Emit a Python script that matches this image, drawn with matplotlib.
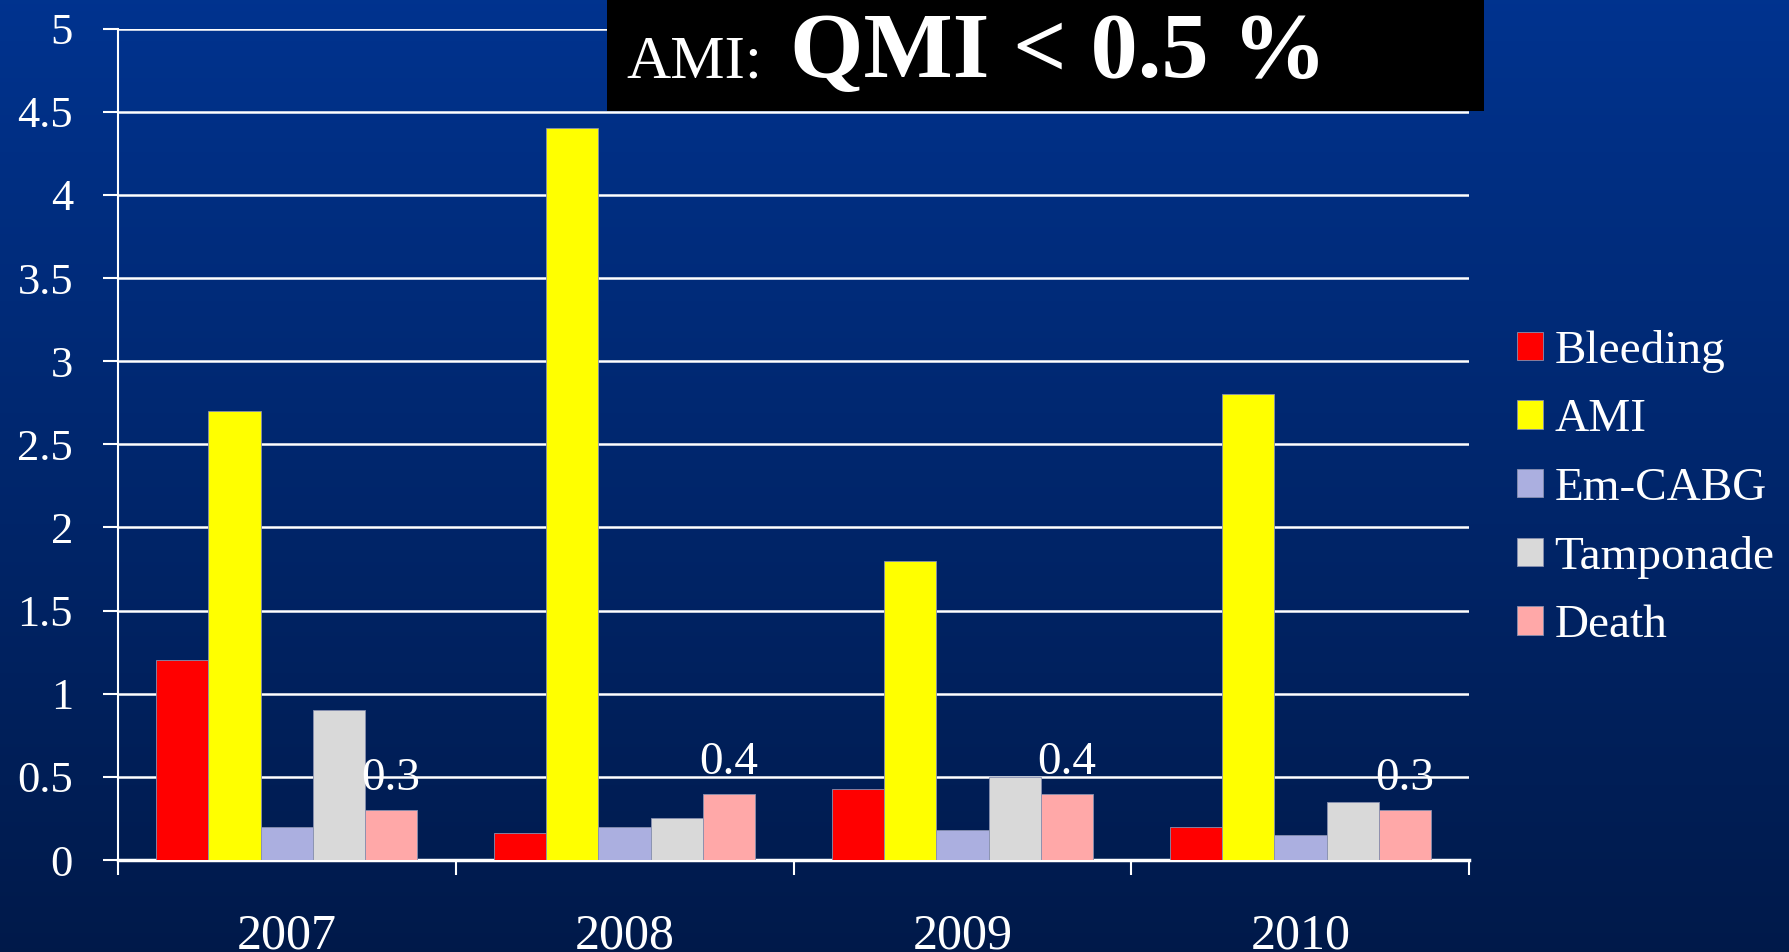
import matplotlib
matplotlib.use("Agg")
import matplotlib.pyplot as plt
import numpy as np
from matplotlib.patches import Rectangle

years = ["2007", "2008", "2009", "2010"]
series = ["Bleeding", "AMI", "Em-CABG", "Tamponade", "Death"]
bleeding = [1.2, 0.16, 0.43, 0.2]
ami = [2.7, 4.4, 1.8, 2.8]
em_cabg = [0.2, 0.2, 0.18, 0.15]
tamponade = [0.9, 0.25, 0.5, 0.35]
death = [0.3, 0.4, 0.4, 0.3]
death_labels = ["0.3", "0.4", "0.4", "0.3"]
yticks = [0, 0.5, 1, 1.5, 2, 2.5, 3, 3.5, 4, 4.5, 5]
ytick_labels = ["0", "0.5", "1", "1.5", "2", "2.5", "3", "3.5", "4", "4.5", "5"]

colors = ["#ff0000", "#ffff00", "#abafe0", "#d9d9d9", "#ffa8a8"]
values = [bleeding, ami, em_cabg, tamponade, death]

plt.rcParams["font.family"] = ["Liberation Serif", "DejaVu Serif"]

fig = plt.figure(figsize=(17.89, 9.52), dpi=100)

# background gradient
bg = fig.add_axes([0, 0, 1, 1], zorder=-10)
top = np.array([0.0, 0.20, 0.56])
bot = np.array([0.0, 0.10, 0.29])
t = np.linspace(0, 1, 256)[:, None]
grad = top[None, :] * (1 - t) + bot[None, :] * t
bg.imshow(grad[:, None, :].repeat(2, axis=1), aspect="auto", extent=[0, 1, 0, 1])
bg.set_axis_off()

ax = fig.add_axes([0.0657, 0.0966, 0.7557, 0.8734])
ax.set_facecolor("none")

x = np.arange(len(years)) + 0.5
w = 0.154
for i, (name, vals, c) in enumerate(zip(series, values, colors)):
    ax.bar(x + (i - 2) * w, vals, width=w, color=c, label=name,
           edgecolor="#8890b0", linewidth=0.6, zorder=3)

for xi, v, lab in zip(x, death, death_labels):
    ax.text(xi + 2 * w, v + 0.12, lab, ha="center", va="baseline",
            color="white", fontsize=34, zorder=4)

ax.set_xlim(0, len(years))
ax.set_ylim(0, 5)
ax.set_yticks(yticks)
ax.set_yticklabels(ytick_labels)
ax.yaxis.grid(True, color="white", linewidth=1.8, zorder=0)
ax.set_axisbelow(True)

ax.set_xticks(np.arange(len(years) + 1))
ax.set_xticklabels([])
ax.set_xticks(x, minor=True)
ax.set_xticklabels(years, minor=True)
ax.tick_params(axis="x", which="major", direction="out", length=11,
               width=1.5, color="white")
ax.tick_params(axis="x", which="minor", length=0, pad=38, labelsize=36,
               labelcolor="white")
ax.tick_params(axis="y", direction="out", length=11, width=1.5, color="white",
               pad=21, labelsize=32, labelcolor="white")

for s in ["top", "right"]:
    ax.spines[s].set_visible(False)
ax.spines["left"].set_color("white")
ax.spines["left"].set_linewidth(1.5)
ax.spines["bottom"].set_color("white")
ax.spines["bottom"].set_linewidth(2.5)

leg = ax.legend(loc="center left", bbox_to_anchor=(1.0, 0.447), frameon=False,
                fontsize=34, labelcolor="white", handlelength=0.55,
                handleheight=0.55, handletextpad=0.25, labelspacing=0.55,
                borderaxespad=0.6)

# title box
fig.patches.append(Rectangle((607 / 1789, 1 - 111 / 952), (1484 - 607) / 1789,
                             111 / 952 + 0.01, transform=fig.transFigure,
                             facecolor="black", edgecolor="none", zorder=5))
fig.text(626 / 1789, 1 - 77 / 952, "AMI:", color="white", fontsize=44,
         ha="left", va="baseline", zorder=6)
fig.text(790 / 1789, 1 - 77 / 952, "QMI < 0.5 %", color="white", fontsize=68,
         fontweight="bold", ha="left", va="baseline", zorder=6)

fig.savefig("out.png", dpi=100)
